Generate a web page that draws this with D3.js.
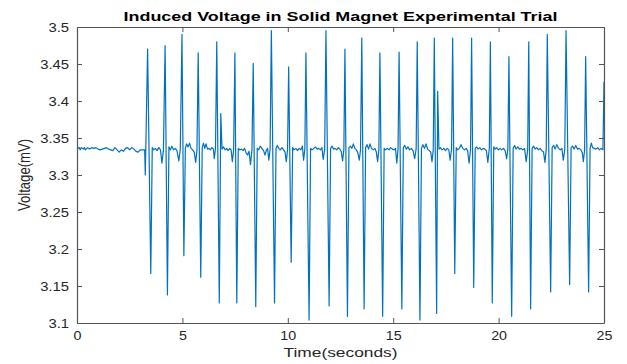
<!DOCTYPE html>
<html>
<head>
<meta charset="utf-8">
<script src="https://cdn.jsdelivr.net/npm/d3@7"></script>
<style>
  body { margin: 0; background: #fff; }
  svg { display: block; font-family: "Liberation Sans", Arial, sans-serif; }
  .axis path, .axis line { stroke: #555; }
  .axis text { fill: #262626; font-size: 13px; }
</style>
</head>
<body>
<svg id="chart" width="627" height="364"></svg>
<script>
// quiet stretch before the magnet starts passing (time s, voltage)
const quietBaseline = [
  [0.00, 3.336], [0.10, 3.337], [0.15, 3.334], [0.20, 3.337], [0.30, 3.335], [0.35, 3.337],
  [0.40, 3.334], [0.50, 3.337], [0.60, 3.335], [0.70, 3.337], [0.80, 3.336], [0.90, 3.337],
  [1.00, 3.335], [1.10, 3.334], [1.20, 3.335], [1.30, 3.336], [1.40, 3.337], [1.50, 3.335],
  [1.60, 3.334], [1.70, 3.333], [1.80, 3.337], [1.90, 3.334], [2.00, 3.331], [2.10, 3.334],
  [2.20, 3.332], [2.30, 3.336], [2.40, 3.337], [2.50, 3.334], [2.60, 3.337], [2.70, 3.335],
  [2.80, 3.332], [2.90, 3.331], [3.00, 3.334], [3.10, 3.334], [3.21, 3.334]
];

// pulse train, one line per pass of the magnet
const pulseTrain = [
  [3.24, 3.300], [3.35, 3.470], [3.50, 3.167],
  [3.57, 3.337], [3.64, 3.334], [3.72, 3.336], [3.80, 3.333], [3.88, 3.337], [3.96, 3.334], [4.03, 3.316], [4.10, 3.334],
  [4.18, 3.475], [4.29, 3.138],
  [4.36, 3.338], [4.43, 3.334], [4.50, 3.339], [4.58, 3.334], [4.66, 3.336], [4.74, 3.333], [4.83, 3.319], [4.90, 3.335],
  [4.98, 3.490], [5.07, 3.191],
  [5.14, 3.336], [5.20, 3.342], [5.27, 3.338], [5.34, 3.343], [5.41, 3.336], [5.48, 3.334], [5.56, 3.331], [5.63, 3.317], [5.69, 3.333],
  [5.75, 3.465], [5.87, 3.162],
  [5.94, 3.337], [6.00, 3.343], [6.06, 3.336], [6.12, 3.342], [6.19, 3.335], [6.26, 3.336], [6.33, 3.334], [6.40, 3.337], [6.47, 3.335], [6.51, 3.322], [6.57, 3.336],
  [6.63, 3.480], [6.75, 3.127], [6.82, 3.383],
  [6.88, 3.335], [6.95, 3.338], [7.02, 3.334], [7.10, 3.336], [7.17, 3.333], [7.25, 3.336], [7.31, 3.334], [7.37, 3.318], [7.43, 3.334],
  [7.49, 3.465], [7.58, 3.127],
  [7.65, 3.336], [7.72, 3.334], [7.80, 3.335], [7.88, 3.333], [7.95, 3.336], [8.02, 3.330], [8.09, 3.327], [8.16, 3.332], [8.23, 3.314], [8.30, 3.334],
  [8.36, 3.451], [8.48, 3.122],
  [8.55, 3.336], [8.62, 3.334], [8.69, 3.339], [8.77, 3.336], [8.85, 3.333], [8.92, 3.327], [8.98, 3.333], [9.04, 3.336], [9.10, 3.320], [9.16, 3.335],
  [9.22, 3.495], [9.37, 3.127],
  [9.44, 3.336], [9.50, 3.340], [9.57, 3.336], [9.64, 3.334], [9.72, 3.337], [9.80, 3.334], [9.87, 3.331], [9.93, 3.318], [9.99, 3.335],
  [10.04, 3.446], [10.16, 3.182],
  [10.23, 3.337], [10.30, 3.334], [10.38, 3.336], [10.46, 3.333], [10.54, 3.336], [10.62, 3.334], [10.69, 3.339], [10.75, 3.320], [10.81, 3.336],
  [10.86, 3.465], [11.01, 3.104],
  [11.08, 3.336], [11.15, 3.334], [11.23, 3.336], [11.31, 3.338], [11.39, 3.335], [11.47, 3.336], [11.55, 3.334], [11.62, 3.337], [11.68, 3.321], [11.75, 3.335],
  [11.81, 3.495], [11.96, 3.123],
  [12.03, 3.336], [12.10, 3.339], [12.17, 3.335], [12.24, 3.336], [12.32, 3.334], [12.40, 3.337], [12.47, 3.335], [12.54, 3.331], [12.60, 3.319], [12.66, 3.335],
  [12.71, 3.470], [12.83, 3.109],
  [12.90, 3.337], [12.97, 3.339], [13.04, 3.336], [13.11, 3.342], [13.18, 3.336], [13.26, 3.334], [13.33, 3.329], [13.39, 3.320], [13.45, 3.334],
  [13.51, 3.485], [13.62, 3.119],
  [13.69, 3.337], [13.76, 3.341], [13.83, 3.335], [13.90, 3.342], [13.97, 3.336], [14.05, 3.334], [14.13, 3.336], [14.20, 3.331], [14.26, 3.318], [14.32, 3.334],
  [14.37, 3.465], [14.50, 3.109],
  [14.57, 3.336], [14.64, 3.334], [14.72, 3.336], [14.80, 3.334], [14.88, 3.337], [14.96, 3.335], [15.04, 3.334], [15.11, 3.336], [15.17, 3.316], [15.23, 3.335],
  [15.28, 3.466], [15.41, 3.119],
  [15.48, 3.337], [15.55, 3.340], [15.62, 3.335], [15.70, 3.338], [15.78, 3.334], [15.86, 3.336], [15.94, 3.333], [16.02, 3.322], [16.09, 3.336],
  [16.14, 3.480], [16.27, 3.104],
  [16.34, 3.336], [16.41, 3.341], [16.48, 3.336], [16.56, 3.342], [16.63, 3.335], [16.71, 3.333], [16.78, 3.331], [16.84, 3.318], [16.90, 3.334],
  [16.95, 3.485], [17.06, 3.113], [17.11, 3.413],
  [17.17, 3.335], [17.24, 3.337], [17.32, 3.334], [17.40, 3.336], [17.48, 3.333], [17.56, 3.336], [17.64, 3.334], [17.70, 3.320], [17.77, 3.335],
  [17.82, 3.485], [17.92, 3.167],
  [17.99, 3.337], [18.06, 3.334], [18.14, 3.336], [18.22, 3.341], [18.30, 3.336], [18.38, 3.334], [18.46, 3.336], [18.53, 3.333], [18.60, 3.316], [18.67, 3.335],
  [18.72, 3.485], [18.82, 3.148],
  [18.89, 3.336], [18.96, 3.338], [19.03, 3.335], [19.11, 3.337], [19.19, 3.334], [19.27, 3.336], [19.35, 3.335], [19.42, 3.333], [19.49, 3.317], [19.56, 3.336],
  [19.61, 3.480], [19.70, 3.127],
  [19.77, 3.338], [19.84, 3.335], [19.91, 3.337], [19.99, 3.334], [20.07, 3.336], [20.15, 3.334], [20.23, 3.336], [20.31, 3.333], [20.38, 3.322], [20.44, 3.335],
  [20.49, 3.460], [20.62, 3.109],
  [20.69, 3.336], [20.76, 3.340], [20.83, 3.335], [20.91, 3.338], [20.99, 3.335], [21.07, 3.336], [21.15, 3.334], [21.23, 3.336], [21.31, 3.318], [21.38, 3.334],
  [21.43, 3.480], [21.52, 3.119],
  [21.59, 3.336], [21.66, 3.339], [21.73, 3.335], [21.81, 3.337], [21.89, 3.334], [21.97, 3.336], [22.05, 3.333], [22.13, 3.331], [22.20, 3.317], [22.26, 3.335],
  [22.31, 3.490], [22.47, 3.142],
  [22.54, 3.337], [22.61, 3.340], [22.68, 3.335], [22.76, 3.341], [22.84, 3.336], [22.92, 3.334], [23.00, 3.336], [23.07, 3.320], [23.14, 3.335],
  [23.20, 3.495], [23.37, 3.152],
  [23.44, 3.337], [23.51, 3.339], [23.58, 3.335], [23.66, 3.340], [23.74, 3.335], [23.82, 3.336], [23.90, 3.334], [23.97, 3.330], [24.02, 3.318], [24.08, 3.334],
  [24.13, 3.460], [24.27, 3.142],
  [24.34, 3.336], [24.40, 3.343], [24.46, 3.337], [24.54, 3.336], [24.62, 3.335], [24.70, 3.337], [24.78, 3.334], [24.86, 3.336], [24.95, 3.334],
  [25.00, 3.426]
];

const xTicks = [0, 5, 10, 15, 20, 25];
const yTicks = [3.1, 3.15, 3.2, 3.25, 3.3, 3.35, 3.4, 3.45, 3.5];

const signal = quietBaseline.concat(pulseTrain);

const svg = d3.select('#chart');
const margin = { top: 27, right: 23, bottom: 41, left: 77 };
const width = 627 - margin.left - margin.right;
const height = 364 - margin.top - margin.bottom;

const g = svg.append('g')
  .attr('transform', 'translate(' + margin.left + ',' + margin.top + ')');

const x = d3.scaleLinear().domain([0, 25]).range([0, width]);
const y = d3.scaleLinear().domain([3.1, 3.5]).range([height, 0]);

const line = d3.line()
  .x(d => x(d[0]))
  .y(d => y(d[1]));

g.append('path')
  .datum(signal)
  .attr('fill', 'none')
  .attr('stroke', '#0072bd')
  .attr('stroke-width', 1.2)
  .attr('stroke-linejoin', 'round')
  .attr('d', line);

const fmtY = d => String(+d.toFixed(2));

// box axes, ticks pointing inward like MATLAB
g.append('g')
  .attr('class', 'axis')
  .attr('transform', 'translate(0,' + height + ')')
  .call(d3.axisBottom(x).tickValues(xTicks).tickSizeInner(-5).tickSizeOuter(0).tickPadding(8))
  .call(a => a.selectAll('text').attr('transform', 'scale(1.1,1)'));

g.append('g')
  .attr('class', 'axis')
  .call(d3.axisLeft(y).tickValues(yTicks).tickFormat(fmtY).tickSizeInner(-5).tickSizeOuter(0).tickPadding(8))
  .call(a => a.selectAll('text').attr('x', -8 / 1.14).attr('transform', 'scale(1.14,1)'));

g.append('g')
  .attr('class', 'axis')
  .call(d3.axisTop(x).tickValues(xTicks).tickFormat('').tickSizeInner(-5).tickSizeOuter(0));

g.append('g')
  .attr('class', 'axis')
  .attr('transform', 'translate(' + width + ',0)')
  .call(d3.axisRight(y).tickValues(yTicks).tickFormat('').tickSizeInner(-5).tickSizeOuter(0));

g.selectAll('.axis path').attr('stroke-width', 1.2);

// titles
svg.append('text')
  .attr('x', margin.left + width / 2)
  .attr('y', 20.5)
  .attr('text-anchor', 'middle')
  .attr('font-size', 13)
  .attr('font-weight', 'bold')
  .attr('fill', '#000')
  .attr('textLength', 434)
  .attr('lengthAdjust', 'spacingAndGlyphs')
  .text('Induced Voltage in Solid Magnet Experimental Trial');

svg.append('text')
  .attr('x', margin.left + width / 2)
  .attr('y', 356.5)
  .attr('text-anchor', 'middle')
  .attr('font-size', 13)
  .attr('fill', '#262626')
  .attr('textLength', 114)
  .attr('lengthAdjust', 'spacingAndGlyphs')
  .text('Time(seconds)');

svg.append('text')
  .attr('transform', 'translate(30,' + (margin.top + height / 2) + ') rotate(-90) scale(1,1.2)')
  .attr('text-anchor', 'middle')
  .attr('font-size', 13)
  .attr('fill', '#262626')
  .attr('textLength', 72)
  .attr('lengthAdjust', 'spacingAndGlyphs')
  .text('Voltage(mV)');
</script>
</body>
</html>
